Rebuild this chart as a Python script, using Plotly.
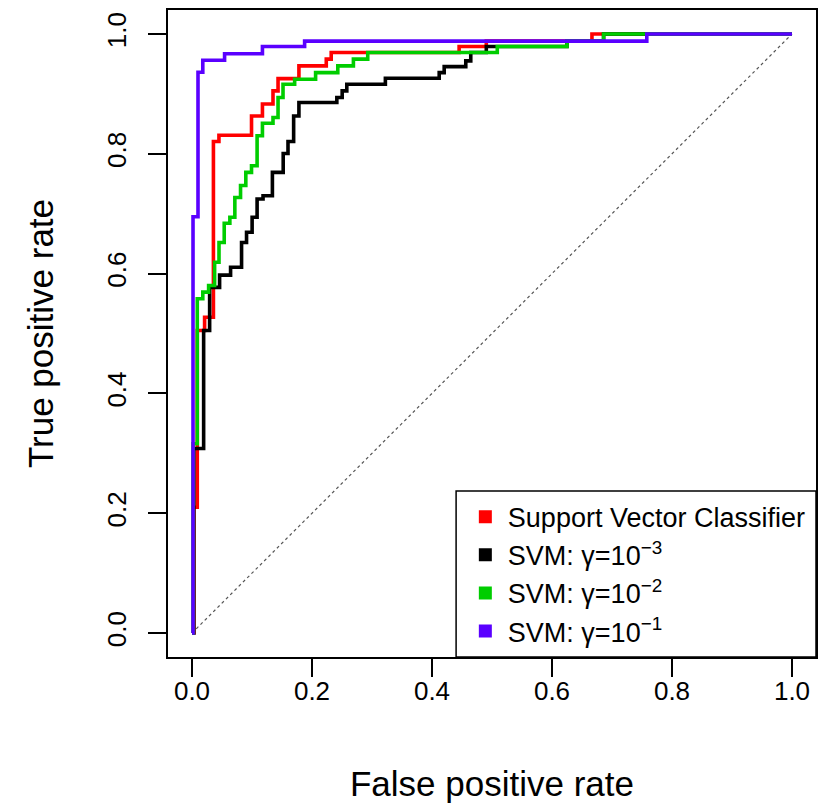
import plotly.graph_objects as go

# ROC curves (corner points of each step curve)
svc_fpr = [0, 0.003, 0.0088, 0.021, 0.0357, 0.0449, 0.0992, 0.1174, 0.135, 0.1434,
           0.1782, 0.2238, 0.232, 0.4452, 0.4905, 0.6666, 1.0]
svc_tpr = [0, 0.21, 0.505, 0.527, 0.8205, 0.831, 0.863, 0.883, 0.905, 0.9255,
           0.9467, 0.958, 0.969, 0.979, 0.988, 1.0, 1.0]

g3_fpr = [0, 0.003, 0.0194, 0.0294, 0.046, 0.0643, 0.0826, 0.0909, 0.1002, 0.1085,
          0.1184, 0.134, 0.152, 0.16, 0.1694, 0.1782, 0.2414, 0.2503, 0.258, 0.3223,
          0.412, 0.4203, 0.4563, 0.4646, 0.4905, 0.625, 0.686, 1.0]
g3_tpr = [0, 0.308, 0.505, 0.577, 0.5975, 0.6105, 0.652, 0.669, 0.694, 0.7245,
          0.73, 0.769, 0.8005, 0.8205, 0.863, 0.8855, 0.894, 0.905, 0.916, 0.926,
          0.9355, 0.9455, 0.955, 0.969, 0.979, 0.988, 1.0, 1.0]

g2_fpr = [0, 0.0017, 0.0088, 0.018, 0.0277, 0.0377, 0.045, 0.0537, 0.0631, 0.0714,
          0.0809, 0.0897, 0.0992, 0.1085, 0.1174, 0.135, 0.1434, 0.1517, 0.1711, 0.206,
          0.243, 0.269, 0.2929, 0.5088, 0.625, 0.686, 1.0]
g2_tpr = [0, 0.316, 0.558, 0.569, 0.58, 0.619, 0.652, 0.684, 0.694, 0.727,
          0.747, 0.769, 0.78, 0.83, 0.851, 0.8605, 0.894, 0.916, 0.9245, 0.9355,
          0.9467, 0.958, 0.969, 0.979, 0.988, 1.0, 1.0]

g1_fpr = [0, 0.0017, 0.01, 0.018, 0.0543, 0.1174, 0.1877, 0.758, 1.0]
g1_tpr = [0, 0.695, 0.936, 0.956, 0.967, 0.979, 0.988, 1.0, 1.0]

names = ["Support Vector Classifier", "SVM: γ=10<sup>−3</sup>",
         "SVM: γ=10<sup>−2</sup>", "SVM: γ=10<sup>−1</sup>"]
colors = ["#FF0000", "#000000", "#00CD00", "#5A00FF"]
ticks = [0.0, 0.2, 0.4, 0.6, 0.8, 1.0]
tick_text = ["0.0", "0.2", "0.4", "0.6", "0.8", "1.0"]

curves = [(svc_fpr, svc_tpr), (g3_fpr, g3_tpr), (g2_fpr, g2_tpr), (g1_fpr, g1_tpr)]

fig = go.Figure()

# chance line
fig.add_trace(go.Scatter(x=[0, 1], y=[0, 1], mode="lines",
                         line=dict(color="#555555", width=1.2, dash="dot"),
                         showlegend=False, hoverinfo="skip"))

for (fx, ty), name, col in zip(curves, names, colors):
    fig.add_trace(go.Scatter(x=fx, y=ty, mode="lines", line_shape="hv",
                             line=dict(color=col, width=3.6),
                             name=name, showlegend=False))

# square legend keys, like R's pch=15
for name, col in zip(names, colors):
    fig.add_trace(go.Scatter(x=[None], y=[None], mode="markers", name=name,
                             marker=dict(symbol="square", size=13, color=col)))

# legend frame
fig.add_shape(type="rect", xref="paper", yref="paper",
              x0=0.4446, x1=1.0, y0=0.0, y1=0.2566,
              line=dict(color="black", width=1.5), fillcolor="white", layer="below")

axis_common = dict(
    range=[-0.04, 1.04], tickvals=ticks, ticktext=tick_text,
    showgrid=False, zeroline=False, showline=True, mirror=True,
    linecolor="black", linewidth=1.5, ticks="outside", ticklen=18,
    tickwidth=1.5, tickcolor="black",
    tickfont=dict(size=26, color="black"),
)

fig.update_xaxes(**axis_common, ticklabelstandoff=-8,
                 title=dict(text="False positive rate",
                            font=dict(size=35, color="black"), standoff=67))
fig.update_yaxes(**axis_common, tickangle=-90, ticklabelstandoff=12,
                 title=dict(text="True positive rate",
                            font=dict(size=35, color="black"), standoff=38))

fig.update_layout(
    width=823, height=804,
    margin=dict(l=168, r=5, t=10, b=147),
    plot_bgcolor="white", paper_bgcolor="white",
    font=dict(family="Liberation Sans, Arial, sans-serif", color="black"),
    legend=dict(x=0.455, y=0.128, xanchor="left", yanchor="middle",
                bgcolor="rgba(0,0,0,0)", borderwidth=0,
                font=dict(size=27, color="black"), itemsizing="trace",
                itemwidth=35, tracegroupgap=0),
)

fig.write_html("out.html", config={"displayModeBar": False},
               post_script="document.body.style.margin='0';")
